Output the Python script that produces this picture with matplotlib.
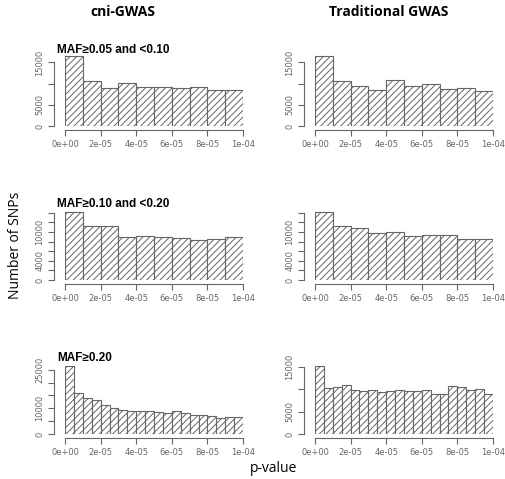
import numpy as np
import matplotlib
matplotlib.use("Agg")
import matplotlib.pyplot as plt

plt.rcParams['hatch.color'] = '#9a9a9a'
plt.rcParams['hatch.linewidth'] = 0.7

# p-value bin edges
edges10 = np.linspace(0, 1e-4, 11)
edges20 = np.linspace(0, 1e-4, 21)

# counts per bin
cni_maf1 = [16430, 10640, 9050, 10160, 9290, 9130, 8970, 9290, 8570, 8570]
trad_maf1 = [16430, 10640, 9520, 8490, 10790, 9520, 10000, 8650, 9050, 8180]
cni_maf2 = [14140, 11240, 11240, 9030, 9240, 9030, 8830, 8410, 8550, 9030]
trad_maf2 = [14070, 11240, 10900, 9860, 10070, 9240, 9380, 9380, 8620, 8620]
cni_maf3 = [26620, 15970, 13900, 13120, 11430, 10000, 9350, 8960, 8960, 8960,
            8440, 8050, 8830, 8050, 7400, 7400, 6880, 6100, 6620, 6620]
trad_maf3 = [15070, 10150, 10370, 10960, 9710, 9490, 9710, 9340, 9560, 9850,
             9490, 9560, 9710, 8970, 8820, 10590, 10440, 9710, 9930, 8820]

maf_titles = ["MAF\u22650.05 and <0.10", "MAF\u22650.10 and <0.20", "MAF\u22650.20"]
xtick_vals = [0, 2e-5, 4e-5, 6e-5, 8e-5, 1e-4]
xtick_labels = ["0e+00", "2e-05", "4e-05", "6e-05", "8e-05", "1e-04"]

W, H = 506, 479
fig = plt.figure(figsize=(W / 100, H / 100), dpi=100)

# panel settings: data, edges, ylim top, yticks, shown labels, bottom pixel, left pixel
panels = [
    (cni_maf1, edges10, 17000, range(0, 15001, 5000), [0, 5000, 15000], 126, 65, maf_titles[0]),
    (trad_maf1, edges10, 17000, range(0, 15001, 5000), [0, 5000, 15000], 126, 315, None),
    (cni_maf2, edges10, 15000, range(0, 14001, 2000), [0, 4000, 10000], 280, 65, maf_titles[1]),
    (trad_maf2, edges10, 15000, range(0, 14001, 2000), [0, 4000, 10000], 280, 315, None),
    (cni_maf3, edges20, 28000, range(0, 25001, 5000), [0, 10000, 25000], 434, 65, maf_titles[2]),
    (trad_maf3, edges20, 16000, range(0, 15001, 5000), [0, 5000, 15000], 434, 315, None),
]

for counts, edges, ytop, yt, ylab, bottom, left, title in panels:
    hpx = 72
    ax = fig.add_axes([left / W, 1 - bottom / H, 178 / W, hpx / H])
    ax.bar(edges[:-1], counts, width=np.diff(edges), align='edge',
           facecolor='white', edgecolor='#666666', linewidth=0.8, hatch='/////')
    ax.set_xlim(0, 1e-4)
    ax.set_ylim(0, ytop)
    for s in ['top', 'right']:
        ax.spines[s].set_visible(False)
    ax.spines['bottom'].set_position(('outward', 3))
    ax.spines['left'].set_position(('outward', 8))
    ax.spines['bottom'].set_bounds(0, 1e-4)
    ax.spines['left'].set_bounds(0, max(yt))
    for s in ['bottom', 'left']:
        ax.spines[s].set_color('#666666')
        ax.spines[s].set_linewidth(0.8)
    ax.set_xticks(xtick_vals)
    ax.set_xticklabels(xtick_labels, fontsize=6.0, color='#666666')
    ax.set_yticks(list(yt))
    ax.set_yticklabels([str(v) if v in ylab else "" for v in yt],
                       fontsize=6.0, color='#666666', rotation=90, va='center')
    ax.tick_params(length=4, width=0.8, color='#666666', pad=3)
    ax.set_facecolor('none')
    if title:
        fig.text(57 / W, 1 - (bottom - 76) / H, title, fontsize=8.5,
                 family='Liberation Sans', fontweight='bold', ha='left', va='center')

fig.text(123 / W, 1 - 12 / H, "cni-GWAS", fontsize=10, family='Open Sans',
         fontweight='bold', ha='center', va='center')
fig.text(389 / W, 1 - 12 / H, "Traditional GWAS", fontsize=10, family='Open Sans',
         fontweight='bold', ha='center', va='center')
fig.text(16 / W, 1 - 245 / H, "Number of SNPs", fontsize=10, family='Open Sans',
         rotation=90, ha='center', va='center')
fig.text(274 / W, 1 - 468 / H, "p-value", fontsize=10, family='Open Sans',
         ha='center', va='center')

fig.savefig("out.png", dpi=100)
